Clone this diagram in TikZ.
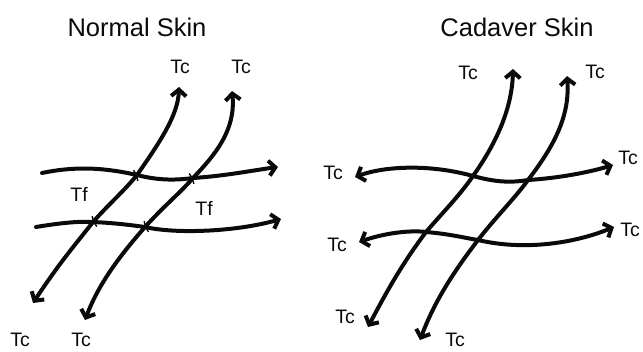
\documentclass[tikz,border=0pt]{standalone}
\usepackage{fontspec}
\setmainfont{Liberation Sans}
\usepackage{tikz}
\usetikzlibrary{arrows.meta,calc}
\definecolor{ink}{HTML}{0A0A0A}
\tikzset{
  fiber/.style={draw=ink, line width=4pt, line cap=round},
  tipone/.style={fiber, -{Straight Barb[length=6.5pt,width=15pt]}},
  tiptwo/.style={fiber, {Straight Barb[length=6.5pt,width=15pt]}-{Straight Barb[length=6.5pt,width=15pt]}},
  minitip/.style={draw=ink, line width=1.4pt, -{Straight Barb[length=3pt,width=9pt]}},
  title/.style={inner sep=0pt, font=\fontsize{25.5}{28}\selectfont, text=ink},
  lab/.style={inner sep=0pt, font=\fontsize{19.5}{22}\selectfont, text=ink},
}
\begin{document}
\begin{tikzpicture}[x=1pt, y=-1pt]
  \useasboundingbox (0,0) rectangle (643,351);

  \node[title] (tNormal) at (137,27) {Normal Skin};
  \node[title] (tCadaver) at (517,27) {Cadaver Skin};

  % normal skin
  \coordinate (nHa) at (42,173);  \coordinate (nHb) at (278,167);
  \coordinate (nLa) at (36,227);  \coordinate (nLb) at (281,219);
  \coordinate (nOa) at (33,303);  \coordinate (nOb) at (179,87);
  \coordinate (nPa) at (85,320);  \coordinate (nPb) at (232,91);
  \coordinate (xA) at (137,175); \coordinate (xB) at (193,178);
  \coordinate (xC) at (93,222);  \coordinate (xD) at (145,227);

  \draw[tipone] (nHa) .. controls (80,165) and (110,169) .. (xA) .. controls (160,181) and (178,180) .. (xB) .. controls (225,176) and (255,170) .. (nHb);
  \draw[tipone] (nLa) .. controls (60,223) and (80,221) .. (xC) .. controls (115,223) and (130,225) .. (xD) .. controls (175,234) and (235,232) .. (nLb);
  \draw[tiptwo] (nOa) .. controls (60,262) and (75,245) .. (xC) .. controls (108,205) and (125,190) .. (xA) .. controls (160,142) and (178,115) .. (nOb);
  \draw[tiptwo] (nPa) .. controls (100,280) and (125,250) .. (xD) .. controls (165,205) and (180,193) .. (xB) .. controls (215,155) and (236,130) .. (nPb);

  \draw[minitip] ($(xA)+(-10,-1)$) -- (xA);
  \draw[minitip] ($(xA)+(-7,8)$) -- (xA);
  \draw[minitip] ($(xB)+(-10,0)$) -- (xB);
  \draw[minitip] ($(xB)+(-7,8)$) -- (xB);
  \draw[minitip] ($(xC)+(10,0)$) -- (xC);
  \draw[minitip] ($(xC)+(7,-8)$) -- (xC);
  \draw[minitip] ($(xD)+(10,1)$) -- (xD);
  \draw[minitip] ($(xD)+(7,-8)$) -- (xD);

  \node[lab] (nTcA) at (180,67) {Tc};
  \node[lab] (nTcB) at (241,67) {Tc};
  \node[lab] (nTcC) at (20,340) {Tc};
  \node[lab] (nTcD) at (81,340) {Tc};
  \node[lab] (nTfA) at (79,194) {Tf};
  \node[lab] (nTfB) at (204,208) {Tf};

  % cadaver skin
  \coordinate (cHa) at (355,177); \coordinate (cHb) at (613,165);
  \coordinate (cLa) at (359,242); \coordinate (cLb) at (614,227);
  \coordinate (cOa) at (368,327); \coordinate (cOb) at (513,69);
  \coordinate (cPa) at (420,340); \coordinate (cPb) at (567,76);
  \coordinate (yA) at (473,176); \coordinate (yB) at (528,180);
  \coordinate (yC) at (426,232); \coordinate (yD) at (478,240);

  \draw[tiptwo] (cHa) .. controls (385,166) and (430,164) .. (yA) .. controls (495,182) and (510,183) .. (yB) .. controls (560,178) and (590,172) .. (cHb);
  \draw[tiptwo] (cLa) .. controls (385,233) and (410,230) .. (yC) .. controls (450,234) and (465,238) .. (yD) .. controls (520,250) and (570,245) .. (cLb);
  \draw[tiptwo] (cOa) .. controls (390,285) and (405,260) .. (yC) .. controls (445,210) and (460,195) .. (yA) .. controls (495,145) and (512,110) .. (cOb);
  \draw[tiptwo] (cPa) .. controls (435,300) and (455,270) .. (yD) .. controls (495,218) and (515,198) .. (yB) .. controls (555,145) and (570,115) .. (cPb);

  \node[lab] (cTcA) at (468,73) {Tc};
  \node[lab] (cTcB) at (595,72) {Tc};
  \node[lab] (cTcC) at (333,173) {Tc};
  \node[lab] (cTcD) at (628,158) {Tc};
  \node[lab] (cTcE) at (337,245) {Tc};
  \node[lab] (cTcF) at (630,230) {Tc};
  \node[lab] (cTcG) at (345,317) {Tc};
  \node[lab] (cTcH) at (455,340) {Tc};
\end{tikzpicture}
\end{document}
